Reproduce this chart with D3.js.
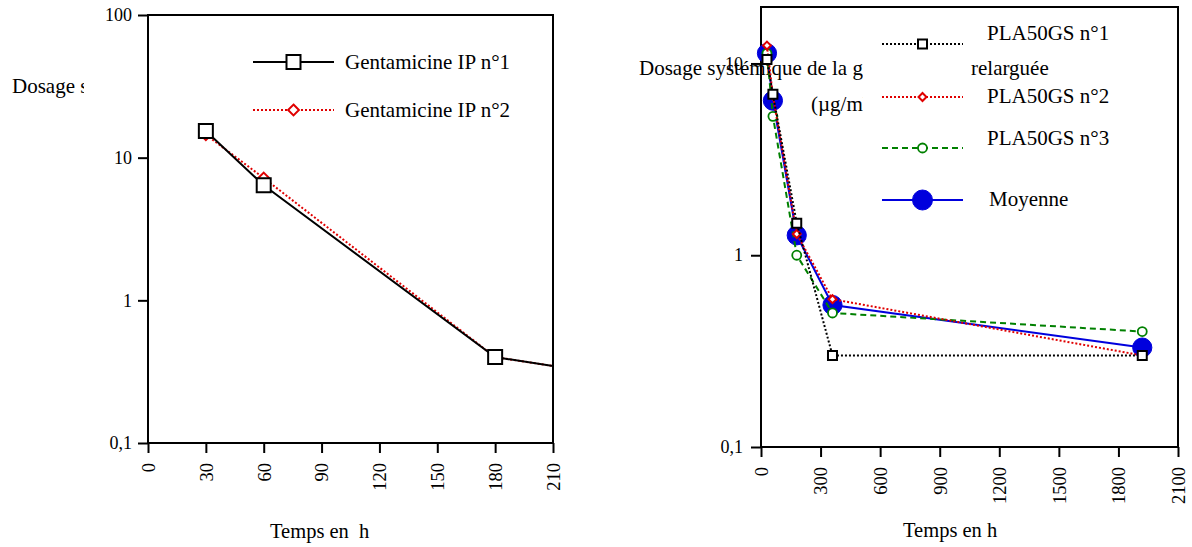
<!DOCTYPE html>
<html>
<head>
<meta charset="utf-8">
<script src="https://cdn.jsdelivr.net/npm/d3@7"></script>
<style>
html,body{margin:0;padding:0;background:#fff;}
svg text{font-family:"Liberation Serif","Tinos","Times New Roman",Times,"DejaVu Serif",serif !important;white-space:pre;}
</style>
</head>
<body>
<svg id="chart" width="1192" height="547"></svg>
<script>
// ---- data ----
const leftTimes = [30, 60, 180, 240];
const gentaIP1 = [15.4, 6.4, 0.4, 0.3];
const gentaIP2 = [14.5, 7.2, 0.4, 0.3];
const leftXTicks = [0, 30, 60, 90, 120, 150, 180, 210];
const leftYTicks = [0.1, 1, 10, 100];

const rightTimes = [30, 60, 180, 360, 1920];
const pla1 = [10.5, 6.9, 1.47, 0.3, 0.3];
const pla2 = [12.4, 6.8, 1.29, 0.59, 0.3];
const pla3 = [11.3, 5.3, 1.0, 0.5, 0.4];
const moyenne = [11.3, 6.4, 1.27, 0.55, 0.33];
const rightXTicks = [0, 300, 600, 900, 1200, 1500, 1800, 2100];
const rightYTicks = [0.1, 1, 10];

const yLabel1 = "Dosage systémique de la gentamicine";
const yLabel1b = "relarguée";
const yLabel2 = "(µg/ml)";
const xLabelLeft = "Temps en  h";
const xLabelRight = "Temps en h";
const leftNames = ["Gentamicine IP n°1", "Gentamicine IP n°2"];
const rightNames = ["PLA50GS n°1", "PLA50GS n°2", "PLA50GS n°3", "Moyenne"];

const fmtY = v => v === 0.1 ? "0,1" : String(v);
const fmtX = v => String(v);

const svg = d3.select("#chart");
const defs = svg.append("defs");

// ---------- LEFT PANEL ----------
const L = {x0: 148, x1: 553, y0: 15, y1: 443};
const xL = d3.scaleLinear().domain([0, 210]).range([L.x0, L.x1]);
const yL = d3.scaleLog().domain([0.1, 100]).range([L.y1, L.y0]);

defs.append("clipPath").attr("id", "clipLblL").append("rect").attr("x", 0).attr("y", 0).attr("width", 84).attr("height", 547);
svg.append("text").attr("clip-path", "url(#clipLblL)").attr("x", 12).attr("y", 93)
  .attr("font-size", 21).text(yLabel1);

defs.append("clipPath").attr("id", "clipPlotL").append("rect")
  .attr("x", L.x0).attr("y", L.y0).attr("width", L.x1 - L.x0).attr("height", L.y1 - L.y0);

function drawAxes(g, xs, ys, xt, yt, box, yPad, xLabTop) {
  const ya = g.append("g").attr("transform", `translate(${box.x0},0)`)
    .call(d3.axisLeft(ys).tickValues(yt).tickFormat(fmtY).tickSize(10).tickSizeOuter(0).tickPadding(yPad));
  ya.attr("font-family", null);
  ya.select(".domain").remove();
  ya.selectAll(".tick line").attr("stroke", "#000").attr("stroke-width", 2);
  ya.selectAll(".tick text").attr("font-size", 18).attr("fill", "#000");
  const xa = g.append("g").attr("transform", `translate(0,${box.y1})`)
    .call(d3.axisBottom(xs).tickValues(xt).tickFormat(fmtX).tickSize(10).tickSizeOuter(0));
  xa.attr("font-family", null);
  xa.select(".domain").remove();
  xa.selectAll(".tick line").attr("stroke", "#000").attr("stroke-width", 2);
  xa.selectAll(".tick text").attr("font-size", 18.5).attr("fill", "#000")
    .attr("text-anchor", "end").attr("x", 0).attr("y", 0).attr("dy", "0.34em")
    .attr("transform", `translate(0,${xLabTop}) rotate(-90)`);
  g.append("rect").attr("x", box.x0).attr("y", box.y0).attr("width", box.x1 - box.x0).attr("height", box.y1 - box.y0)
    .attr("fill", "none").attr("stroke", "#000").attr("stroke-width", 2);
}

const gL = svg.append("g");
drawAxes(gL, xL, yL, leftXTicks, leftYTicks, L, 6, 20);

function series(g, xs, ys, times, vals, style, clip) {
  const pts = times.map((t, i) => [t, vals[i]]);
  const line = d3.line().x(d => xs(d[0])).y(d => ys(d[1]));
  const gg = g.append("g");
  if (clip) gg.attr("clip-path", clip);
  gg.append("path").attr("d", line(pts)).attr("fill", "none")
    .attr("stroke", style.color).attr("stroke-width", style.width)
    .attr("stroke-dasharray", style.dash || null);
  gg.selectAll(".m").data(pts).enter().append("path")
    .attr("transform", d => `translate(${xs(d[0])},${ys(d[1])})`)
    .attr("d", d3.symbol().type(style.sym).size(style.size))
    .attr("fill", style.fill).attr("stroke", style.color).attr("stroke-width", style.mw);
}

const stIP1 = {color: "#000", width: 2, sym: d3.symbolSquare, size: 196, fill: "#fff", mw: 2};
const stIP2 = {color: "#e00000", width: 2, dash: "2,2", sym: d3.symbolDiamond2, size: 75, fill: "#fff", mw: 2};
series(gL, xL, yL, leftTimes, gentaIP2, stIP2, "url(#clipPlotL)");
series(gL, xL, yL, leftTimes, gentaIP1, stIP1, "url(#clipPlotL)");

function legendItem(g, x0, x1, y, style, label, tx, ty, fs) {
  g.append("line").attr("x1", x0).attr("x2", x1).attr("y1", y).attr("y2", y)
    .attr("stroke", style.color).attr("stroke-width", style.width).attr("stroke-dasharray", style.dash || null);
  g.append("path").attr("transform", `translate(${(x0 + x1) / 2},${y})`)
    .attr("d", d3.symbol().type(style.sym).size(style.size))
    .attr("fill", style.fill).attr("stroke", style.color).attr("stroke-width", style.mw);
  g.append("text").attr("x", tx).attr("y", ty).attr("font-size", fs).text(label);
}
legendItem(gL, 253, 334, 62, stIP1, leftNames[0], 345, 69, 21);
legendItem(gL, 253, 334, 110, stIP2, leftNames[1], 345, 117, 21);

svg.append("text").attr("x", 270).attr("y", 538).attr("font-size", 20.5).text(xLabelLeft);

// ---------- RIGHT PANEL ----------
const R = {x0: 761, x1: 1178, y0: 7, y1: 447};
const xR = d3.scaleLinear().domain([0, 2100]).range([R.x0, R.x1]);
const yR = d3.scaleLog().domain([0.1, 19.7]).range([R.y1, R.y0]);

defs.append("clipPath").attr("id", "clipLblR").append("rect").attr("x", 600).attr("y", 0).attr("width", 263).attr("height", 547);
const gR = svg.append("g");
gR.append("text").attr("clip-path", "url(#clipLblR)").attr("x", 639).attr("y", 75).attr("font-size", 21).text(yLabel1);
gR.append("text").attr("clip-path", "url(#clipLblR)").attr("x", 811).attr("y", 111).attr("font-size", 21).text(yLabel2);
gR.append("text").attr("x", 971).attr("y", 75).attr("font-size", 21).text(yLabel1b);

drawAxes(gR, xR, yR, rightXTicks, rightYTicks, R, 8, 20);

const stP1 = {color: "#000", width: 2, dash: "2,2", sym: d3.symbolSquare, size: 81, fill: "#fff", mw: 2};
const stP2 = {color: "#e00000", width: 2, dash: "2,2", sym: d3.symbolDiamond2, size: 40, fill: "#fff", mw: 2};
const stP3 = {color: "#008000", width: 2, dash: "6,4", sym: d3.symbolCircle, size: 64, fill: "#fff", mw: 1.8};
const stM = {color: "#0000dd", width: 2, sym: d3.symbolCircle, size: 290, fill: "#0000dd", mw: 1};

series(gR, xR, yR, rightTimes, moyenne, stM, null);
series(gR, xR, yR, rightTimes, pla3, stP3, null);
series(gR, xR, yR, rightTimes, pla2, stP2, null);
series(gR, xR, yR, rightTimes, pla1, stP1, null);

const stMleg = Object.assign({}, stM, {size: 314});
legendItem(gR, 882, 963, 44, stP1, rightNames[0], 987, 40, 21);
legendItem(gR, 882, 963, 97, stP2, rightNames[1], 987, 103, 21);
legendItem(gR, 882, 963, 148, stP3, rightNames[2], 987, 145, 21);
legendItem(gR, 882, 963, 200, stMleg, rightNames[3], 989, 206, 21);

svg.append("text").attr("x", 903).attr("y", 537).attr("font-size", 20.5).text(xLabelRight);
</script>
</body>
</html>
